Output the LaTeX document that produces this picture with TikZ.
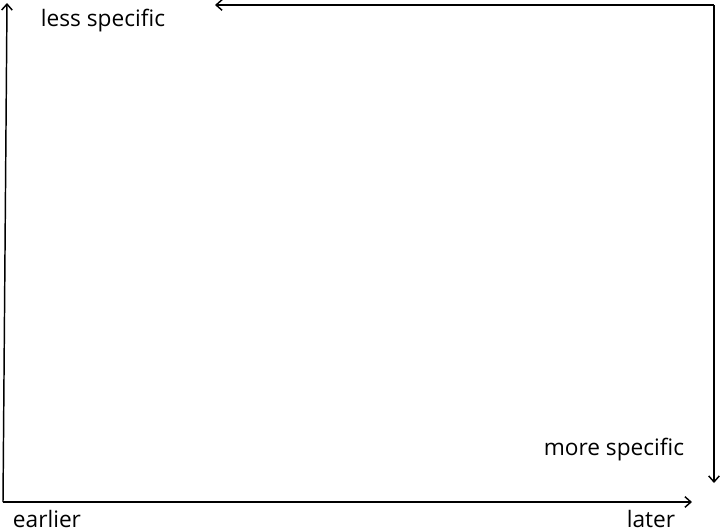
\documentclass[tikz,border=0pt]{standalone}
\usepackage{fontspec}
\setmainfont{Open Sans}
\usepackage{tikz}
\usetikzlibrary{arrows.meta}

\begin{document}
\begin{tikzpicture}[x=0.75pt,y=0.75pt,yscale=-1,xscale=1,
  axis/.style={line width=1.1pt,-{Straight Barb[length=4.5pt,width=8pt]}},
  lbl/.style={inner sep=0.75pt,font=\fontsize{17}{20}\selectfont}]
\useasboundingbox (0,0) rectangle (722,532); %set diagram to 722 x 532

% Coordinates
\coordinate (origin) at (3,502);
\coordinate (ytop) at (7,3);
\coordinate (xend) at (692,502);
\coordinate (corner) at (714,5);
\coordinate (leftend) at (215,5);
\coordinate (downend) at (714,483);

%Straight Lines
\draw [axis] (origin) -- (ytop);
\draw [axis] (origin) -- (xend);
\draw [axis] (corner) -- (leftend);
\draw [axis] (corner) -- (downend);

% Text Node
\node [lbl] (less) at (103,21) {less specific};
% Text Node
\node [lbl] (more) at (614,450) {more specific};
% Text Node
\node [lbl] (earlier) at (47,519) {earlier};
% Text Node
\node [lbl] (later) at (651,519) {later};

\end{tikzpicture}
\end{document}
